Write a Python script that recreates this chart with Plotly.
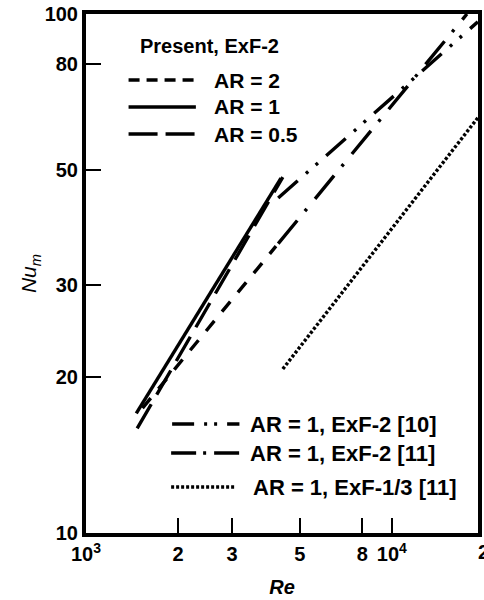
import plotly.graph_objects as go

# ---- data ----
re_ar2 = [1530, 4180]
nu_ar2 = [17.4, 35.7]
re_ar1 = [1460, 4340]
nu_ar1 = [17.0, 48.3]
re_ar05 = [1470, 4400]
nu_ar05 = [15.9, 48.5]
re_ref10 = [4250, 19100]
nu_ref10 = [44.2, 96.6]
re_ref11 = [4250, 17600]
nu_ref11 = [36.1, 100.0]
re_ref11b = [4400, 19100]
nu_ref11b = [20.7, 63.1]

x_tickvals = [1000, 2000, 3000, 5000, 8000, 10000]
x_ticktext = ["10<sup>3</sup>", "2", "3", "5", "8", "10<sup>4</sup>"]
y_tickvals = [10, 20, 30, 50, 80, 100]
y_ticktext = ["10", "20", "30", "50", "80", "100"]

FONT = "Liberation Sans, Arial, sans-serif"
FS = 20
LW = 3.4

series = [
    (re_ar2, nu_ar2, "13px,12px"),
    (re_ar1, nu_ar1, "solid"),
    (re_ar05, nu_ar05, "28px,11px"),
    (re_ref10, nu_ref10, "26px,11px,3px,10px,3px,11px"),
    (re_ref11, nu_ref11, "30px,12px,3px,13px"),
    (re_ref11b, nu_ref11b, "3px,2px"),
]

fig = go.Figure()
for xs, ys, dash in series:
    fig.add_trace(go.Scatter(x=xs, y=ys, mode="lines",
                             line=dict(color="black", width=LW, dash=dash),
                             showlegend=False, hoverinfo="skip"))

# ---- hand-placed legend (paper coordinates) ----
def py(p):
    return (533 - p) / 519.0

def px(p):
    return (p - 86) / 396.0

legend_items = [
    (129, 197, 80, "11px,7px", 213, "AR = 2", 21),
    (129, 197, 107, "solid", 213, "AR = 1", 21),
    (129, 197, 134, "29px,8px", 213, "AR = 0.5", 21),
    (173, 241, 424, "22px,10px,3px,7px,3px,10px", 250, "AR = 1, ExF-2 [10]", 22),
    (172, 247, 453, "25px,7px,3px,8px", 250, "AR = 1, ExF-2 [11]", 22),
    (172, 236, 487, "3px,2px", 253, "AR = 1, ExF-1/3 [11]", 22),
]
for x0, x1, yy, dash, tx, label, fs in legend_items:
    fig.add_shape(type="line", xref="paper", yref="paper",
                  x0=px(x0), x1=px(x1), y0=py(yy), y1=py(yy),
                  line=dict(color="black", width=LW, dash=dash))
    fig.add_annotation(xref="paper", yref="paper", x=px(tx), y=py(yy),
                       text=label, showarrow=False, xanchor="left",
                       yanchor="middle",
                       font=dict(family=FONT, size=fs, color="black", weight="bold"))

fig.add_annotation(xref="paper", yref="paper", x=px(139), y=py(46),
                   text="Present, ExF-2", showarrow=False, xanchor="left",
                   yanchor="middle",
                   font=dict(family=FONT, size=20, color="black", weight="bold"))

# clipped "2" (2x10^4) label at the right edge
fig.add_annotation(xref="paper", yref="paper", x=px(488), y=py(552),
                   text="2", showarrow=False, xanchor="center", yanchor="middle",
                   font=dict(family=FONT, size=FS, color="black", weight="bold"))

fig.update_xaxes(type="log", range=[3, 4.2816],
                 tickvals=x_tickvals, ticktext=x_ticktext,
                 ticks="inside", ticklen=15, tickwidth=2, tickcolor="black",
                 showline=True, linewidth=4, linecolor="black", mirror=True,
                 showgrid=False, zeroline=False,
                 tickfont=dict(family=FONT, size=FS, color="black", weight="bold"),
                 title=dict(text="<i>Re</i>", standoff=17,
                            font=dict(family=FONT, size=FS, color="black", weight="bold")))
fig.update_yaxes(type="log", range=[1, 2],
                 tickvals=y_tickvals, ticktext=y_ticktext,
                 ticks="inside", ticklen=15, tickwidth=2, tickcolor="black",
                 showline=True, linewidth=4, linecolor="black", mirror=True,
                 showgrid=False, zeroline=False,
                 tickfont=dict(family=FONT, size=FS, color="black", weight="bold"),
                 title=dict(text="<i>Nu<sub>m</sub></i>", standoff=3,
                            font=dict(family=FONT, size=21, color="black")))

fig.update_layout(width=484, height=600,
                  margin=dict(l=86, r=2, t=14, b=67),
                  plot_bgcolor="white", paper_bgcolor="white",
                  showlegend=False)

fig.write_html("out.html")
